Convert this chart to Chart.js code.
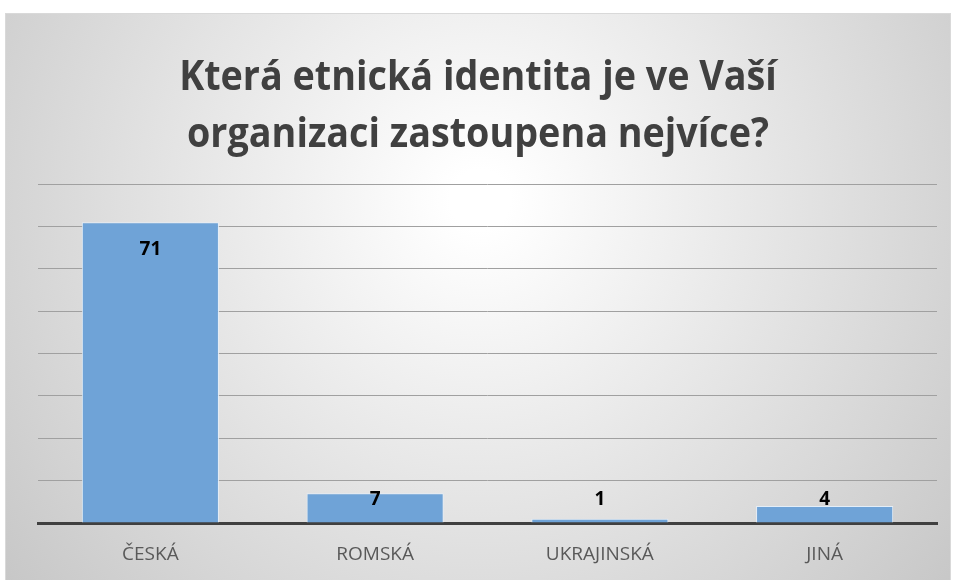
<!DOCTYPE html>
<html>
<head>
<meta charset="utf-8">
<script src="https://cdn.jsdelivr.net/npm/chart.js@4"></script>
<style>
  html, body { margin: 0; padding: 0; background: #fff; }
  #wrap { width: 955px; height: 580px; }
</style>
</head>
<body>
<div id="wrap"><canvas id="graf" width="955" height="580"></canvas></div>
<script>
// data
const kategorie = ['ČESKÁ', 'ROMSKÁ', 'UKRAJINSKÁ', 'JINÁ'];
const pocty = [71, 7, 1, 4];
const titulek = ['Která etnická identita je ve Vaší', 'organizaci zastoupena nejvíce?'];

// pozadí s přechodem a rámeček
const pozadi = {
    id: 'pozadi',
    beforeDraw(chart) {
        const c = chart.ctx;
        c.save();
        const g = c.createRadialGradient(480, 200, 30, 480, 200, 620);
        g.addColorStop(0, '#ffffff');
        g.addColorStop(1, '#c6c6c6');
        c.fillStyle = g;
        c.fillRect(5, 13, 946, 580);
        c.strokeStyle = '#d9d9d9';
        c.lineWidth = 1;
        c.strokeRect(5.5, 13.5, 945, 580);
        c.restore();
    }
};

// titulek a popisky hodnot
const popisky = {
    id: 'popisky',
    afterDraw(chart) {
        const c = chart.ctx;
        c.save();
        c.fillStyle = '#404040';
        c.textAlign = 'center';
        c.textBaseline = 'middle';
        c.font = 'bold 41px "Open Sans", sans-serif';
        // Calibri je užší, trochu stáhnout
        c.translate(478, 0);
        c.scale(0.92, 1);
        c.fillText(titulek[0], 0, 78);
        c.fillText(titulek[1], 0, 135);
        c.setTransform(1, 0, 0, 1, 0, 0);

        const meta = chart.getDatasetMeta(0);
        const dole = chart.chartArea.bottom;
        c.fillStyle = '#000';
        c.font = 'bold 19px "Open Sans", sans-serif';
        meta.data.forEach((bar, i) => {
            const y = Math.min(bar.y + 27, dole - 23);
            c.fillText(String(pocty[i]), bar.x, y);
        });
        c.restore();
    }
};

new Chart(document.getElementById('graf').getContext('2d'), {
    type: 'bar',
    data: {
        labels: kategorie,
        datasets: [{
            data: pocty,
            backgroundColor: '#6fa3d7',
            borderColor: '#e4eef8',
            borderWidth: 1,
            categoryPercentage: 1,
            barPercentage: 0.61
        }]
    },
    options: {
        responsive: false,
        animation: false,
        layout: { padding: { left: 38, right: 18, top: 184, bottom: 0 } },
        plugins: {
            legend: { display: false },
            tooltip: { enabled: false }
        },
        scales: {
            y: {
                min: 0,
                max: 80,
                ticks: { stepSize: 10, display: false },
                grid: { color: '#a0a0a0', lineWidth: 1, drawTicks: false },
                border: { display: false },
                afterFit(s) { s.width = 0; }
            },
            x: {
                grid: { display: false, drawTicks: false },
                border: { display: true, color: '#404040', width: 3 },
                ticks: {
                    color: '#595959',
                    padding: 20,
                    font: { size: 19, family: '"Open Sans", sans-serif' }
                },
                afterFit(s) { s.height = 57; }
            }
        }
    },
    plugins: [pozadi, popisky]
});
</script>
</body>
</html>
